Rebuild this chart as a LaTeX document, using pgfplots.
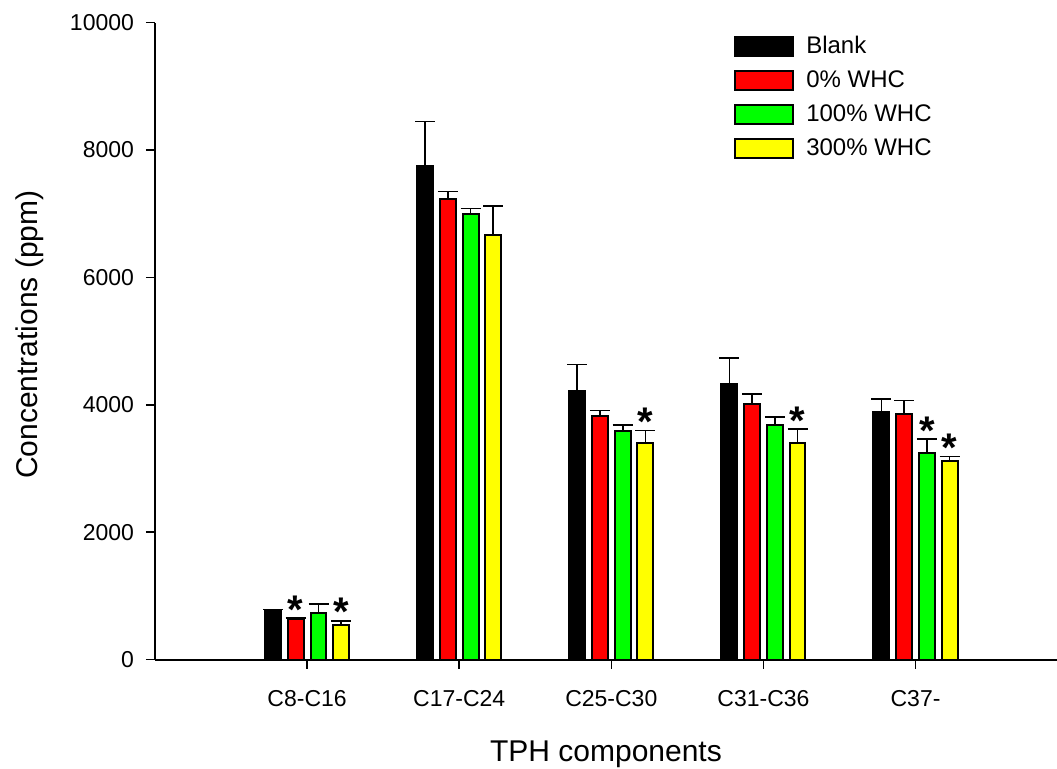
\documentclass[border=0pt]{standalone}
\usepackage{fontspec}
\setmainfont{Liberation Sans}
\usepackage{pgfplots}
\pgfplotsset{compat=1.18}
\definecolor{cBlank}{HTML}{000000}
\definecolor{cZero}{HTML}{FF0000}
\definecolor{cHund}{HTML}{00FF00}
\definecolor{cThree}{HTML}{FFFF00}
\begin{document}
\begin{tikzpicture}
\useasboundingbox (-77.5pt,-54.25pt) rectangle (451pt,329.75pt);
\begin{axis}[
  scale only axis,
  width=451pt, height=318.5pt,
  xmin=0, xmax=5.93,
  ymin=0, ymax=10000,
  axis lines=left,
  axis line style={-, line width=1pt},
  tick align=outside,
  major tick length=4.5pt,
  tick style={line width=0.8pt, black},
  xtick={1,2,3,4,5},
  xticklabels={C8-C16,C17-C24,C25-C30,C31-C36,C37-},
  ytick={0,2000,4000,6000,8000,10000},
  scaled y ticks=false,
  /pgf/number format/assume math mode=true,
  yticklabel style={/pgf/number format/1000 sep={}, xshift=-2.5pt},
  ticklabel style={font=\fontsize{11.5}{13}\selectfont},
  xticklabel style={yshift=-7.5pt},
  xlabel={TPH components},
  ylabel={Concentrations (ppm)},
  every axis x label/.style={at={(axis description cs:0.5,0)}, anchor=base, yshift=-51pt,
    font=\fontsize{15}{17}\selectfont},
  every axis y label/.style={at={(axis description cs:0,0.51)}, xshift=-62.5pt, rotate=90,
    anchor=center, font=\fontsize{15}{17}\selectfont},
  legend cell align=left,
  legend style={draw=none, fill=none, at={(0.642,0.985)}, anchor=north west,
    font=\fontsize{12}{14}\selectfont, row sep=3pt, inner sep=0pt,
    /tikz/every odd column/.append style={column sep=4pt}},
  legend image code/.code={\draw[#1, line width=0.9pt] (0pt,-4.75pt) rectangle (29pt,4.75pt);},
  error bars/error bar style={line width=0.8pt, black},
  error bars/error mark options={rotate=90, mark size=5pt, line width=0.8pt, black},
  every axis plot/.append style={ybar, bar width=0.105, bar shift=0pt, draw=black, line width=1pt},
]
% x positions are the group centre (1..5) plus each series' offset
\addplot[fill=cBlank, error bars/.cd, y dir=plus, y explicit]
  coordinates {(0.776,766) +- (0,22) (1.776,7747) +- (0,696) (2.776,4215) +- (0,419) (3.776,4320) +- (0,409) (4.776,3890) +- (0,200)};
\addplot[fill=cZero, error bars/.cd, y dir=plus, y explicit]
  coordinates {(0.925,631) +- (0,16) (1.925,7225) +- (0,125) (2.925,3823) +- (0,89) (3.925,4006) +- (0,162) (4.925,3859) +- (0,204)};
\addplot[fill=cHund, error bars/.cd, y dir=plus, y explicit]
  coordinates {(1.075,725) +- (0,146) (2.075,6994) +- (0,83) (3.075,3582) +- (0,95) (4.075,3677) +- (0,130) (5.075,3246) +- (0,211)};
\addplot[fill=cThree, error bars/.cd, y dir=plus, y explicit]
  coordinates {(1.224,542) +- (0,67) (2.224,6659) +- (0,456) (3.224,3403) +- (0,195) (4.224,3403) +- (0,211) (5.224,3116) +- (0,74)};
% significance marks, placed just above the error caps
\addplot[only marks, mark=none, draw=none, forget plot, point meta=explicit symbolic,
  nodes near coords,
  nodes near coords style={anchor=base, yshift=-2.5pt, inner sep=0pt,
    font=\fontsize{20}{20}\selectfont\bfseries}]
  table[meta=m] {
x      y    m
0.925  647  *
1.224  609  *
3.224  3598 *
4.224  3614 *
5.075  3457 *
5.224  3190 *
};
\legend{Blank, 0\% WHC, 100\% WHC, 300\% WHC}
\end{axis}
\end{tikzpicture}
\end{document}
